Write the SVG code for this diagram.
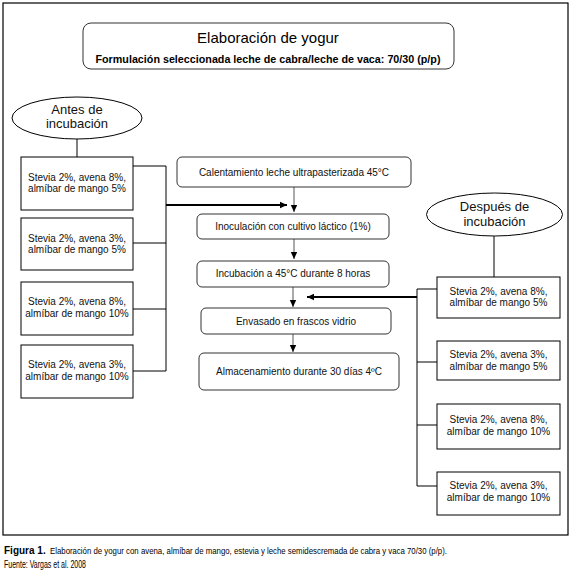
<svg xmlns="http://www.w3.org/2000/svg" width="572" height="580" viewBox="0 0 572 580">
<defs>
<marker id="ah" markerUnits="userSpaceOnUse" markerWidth="8" markerHeight="8" refX="7" refY="4" orient="auto">
<path d="M0,0.8 L7,4 L0,7.2 Z" fill="#000"/>
</marker>
<style>
.box{fill:#fff;stroke:#000;stroke-width:1}
.rbox{fill:#fff;stroke:#333;stroke-width:1}
.t{font-family:"Liberation Sans",Arial,sans-serif;font-size:10px;fill:#111;text-anchor:middle}
.el{font-family:"Liberation Sans",Arial,sans-serif;font-size:13px;fill:#111;text-anchor:middle}
.ln{fill:none;stroke:#000;stroke-width:1}
.ar{fill:none;stroke:#555;stroke-width:1}
.thick{fill:none;stroke:#000;stroke-width:2.2}
.cap{font-family:"Liberation Sans",Arial,sans-serif;font-size:10.5px;fill:#000}
</style>
</defs>
<rect x="0" y="0" width="572" height="580" fill="#fff"/>
<rect x="3" y="3" width="565" height="532" fill="none" stroke="#000" stroke-width="1.2"/>

<g id="title">
<rect x="83" y="23" width="371" height="46" rx="8" class="rbox"/>
<text x="268" y="43" font-family="Liberation Sans,Arial,sans-serif" font-size="15" text-anchor="middle" fill="#000">Elaboración de yogur</text>
<text x="268" y="63" font-family="Liberation Sans,Arial,sans-serif" font-size="10.5" font-weight="bold" text-anchor="middle" fill="#000" textLength="345" lengthAdjust="spacingAndGlyphs">Formulación seleccionada leche de cabra/leche de vaca: 70/30 (p/p)</text>
</g>

<g id="connectors">
<line x1="77" y1="139" x2="77" y2="157" class="ln"/>
<path d="M133,166 H166 V371 H133" class="ln"/>
<line x1="133" y1="243" x2="166" y2="243" class="ln"/>
<line x1="133" y1="309" x2="166" y2="309" class="ln"/>
<line x1="166" y1="205" x2="287" y2="205" class="thick" marker-end="url(#ah)"/>
<line x1="494" y1="236" x2="494" y2="277" class="ln"/>
<path d="M437,289 H417 V486 H437" class="ln"/>
<line x1="417" y1="362" x2="437" y2="362" class="ln"/>
<line x1="417" y1="425" x2="437" y2="425" class="ln"/>
<line x1="417" y1="297" x2="307" y2="297" class="thick" marker-end="url(#ah)"/>
<line x1="294" y1="187" x2="294" y2="212" class="ar" marker-end="url(#ah)"/>
<line x1="294" y1="239" x2="294" y2="259" class="ar" marker-end="url(#ah)"/>
<line x1="293" y1="287" x2="293" y2="307" class="ar" marker-end="url(#ah)"/>
<line x1="293" y1="334" x2="293" y2="352" class="ar" marker-end="url(#ah)"/>
</g>

<g id="antes">
<ellipse cx="77" cy="118" rx="65" ry="21" class="box"/>
<text x="77" y="114" class="el">Antes de</text>
<text x="77" y="128" class="el">incubación</text>
</g>
<g id="a1">
<rect x="21" y="157" width="112" height="53" class="box"/>
<text x="77" y="181" class="t">Stevia 2%, avena 8%,</text>
<text x="77" y="192" class="t">almíbar de mango 5%</text>
</g>
<g id="a2">
<rect x="21" y="218" width="112" height="52" class="box"/>
<text x="77" y="242" class="t">Stevia 2%, avena 3%,</text>
<text x="77" y="253" class="t">almíbar de mango 5%</text>
</g>
<g id="a3">
<rect x="21" y="282" width="112" height="53" class="box"/>
<text x="77" y="305" class="t">Stevia 2%, avena 8%,</text>
<text x="77" y="317" class="t">almíbar de mango 10%</text>
</g>
<g id="a4">
<rect x="21" y="345" width="112" height="53" class="box"/>
<text x="77" y="368" class="t">Stevia 2%, avena 3%,</text>
<text x="77" y="380" class="t">almíbar de mango 10%</text>
</g>

<g id="calentamiento">
<rect x="177" y="157" width="234" height="30" rx="5" class="rbox"/>
<text x="294" y="176" class="t">Calentamiento leche ultrapasterizada 45°C</text>
</g>
<g id="inoculacion">
<rect x="197" y="214" width="192" height="25" rx="5" class="rbox"/>
<text x="293" y="230" class="t">Inoculación con cultivo láctico (1%)</text>
</g>
<g id="incubacion">
<rect x="197" y="261" width="192" height="26" rx="5" class="rbox"/>
<text x="293" y="277" class="t">Incubación a 45°C durante 8 horas</text>
</g>
<g id="envasado">
<rect x="201" y="308" width="190" height="26" rx="5" class="rbox"/>
<text x="296" y="325" class="t">Envasado en frascos vidrio</text>
</g>
<g id="almacenamiento">
<rect x="199" y="353" width="200" height="37" rx="5" class="rbox"/>
<text x="299" y="375" class="t">Almacenamiento durante 30 días 4ºC</text>
</g>

<g id="despues">
<ellipse cx="494.5" cy="214.5" rx="68" ry="21.5" class="box"/>
<text x="494.5" y="211" class="el">Después de</text>
<text x="494.5" y="226" class="el">incubación</text>
</g>
<g id="d1">
<rect x="437" y="277" width="123" height="41" class="box"/>
<text x="498.5" y="295" class="t">Stevia 2%, avena 8%,</text>
<text x="498.5" y="306" class="t">almíbar de mango 5%</text>
</g>
<g id="d2">
<rect x="437" y="341" width="123" height="39" class="box"/>
<text x="498.5" y="358" class="t">Stevia 2%, avena 3%,</text>
<text x="498.5" y="370" class="t">almíbar de mango 5%</text>
</g>
<g id="d3">
<rect x="437" y="404" width="123" height="45" class="box"/>
<text x="498.5" y="423" class="t">Stevia 2%, avena 8%,</text>
<text x="498.5" y="435" class="t">almíbar de mango 10%</text>
</g>
<g id="d4">
<rect x="437" y="472" width="123" height="43" class="box"/>
<text x="498.5" y="489" class="t">Stevia 2%, avena 3%,</text>
<text x="498.5" y="501" class="t">almíbar de mango 10%</text>
</g>

<g id="caption">
<text x="4" y="554" font-family="Liberation Sans,Arial,sans-serif" font-size="10" font-weight="bold" fill="#000">Figura 1.</text>
<text x="50" y="554" font-family="Liberation Sans,Arial,sans-serif" font-size="9.5" fill="#000" textLength="397" lengthAdjust="spacingAndGlyphs">Elaboración de yogur con avena, almíbar de mango, estevia y leche semidescremada de cabra y vaca 70/30 (p/p).</text>
<text x="4" y="568" class="cap" textLength="82" lengthAdjust="spacingAndGlyphs">Fuente: Vargas et al. 2008</text>
</g>
</svg>
